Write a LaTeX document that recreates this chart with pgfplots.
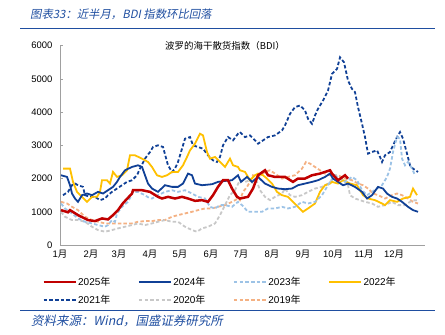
\documentclass[border=0pt]{standalone}
\usepackage{pgfplots}
\pgfplotsset{compat=1.18}
\usepackage{fontspec}
\setmainfont{Liberation Sans}
\newfontfamily\cjk{Noto Sans CJK SC}
\newfontfamily\cjkit{Noto Sans CJK SC}[FakeSlant=0.2]
\definecolor{hdr}{RGB}{31,78,160}
\definecolor{axgray}{RGB}{160,160,160}
\definecolor{c25}{RGB}{192,0,0}
\definecolor{c24}{RGB}{16,64,150}
\definecolor{c23}{RGB}{157,195,230}
\definecolor{c22}{RGB}{255,192,0}
\definecolor{c21}{RGB}{16,64,150}
\definecolor{c20}{RGB}{200,200,200}
\definecolor{c19}{RGB}{244,177,131}
\begin{document}
\begin{tikzpicture}[x=1bp,y=1bp]
\useasboundingbox (0,0) rectangle (445,334);
\node[anchor=west, text=hdr, font=\cjkit\fontsize{11.4}{14}\selectfont, inner sep=0] at (30,320) {图表33：近半月，BDI 指数环比回落};
\draw[hdr, line width=1.2bp] (20,305.7) -- (435,305.7);
\draw[hdr, line width=1.2bp] (20,23.3) -- (435,23.3);
\node[anchor=west, text=hdr, font=\cjkit\fontsize{12.5}{14}\selectfont, inner sep=0] at (31,13.3) {资料来源：Wind，国盛证券研究所};
\begin{axis}[
  at={(60bp,89bp)}, anchor=south west,
  scale only axis, width=365bp, height=199.3bp,
  xmin=0, xmax=365, ymin=0, ymax=6000,
  clip=false,
  axis lines*=left,
  axis line style={draw=axgray, line width=0.8bp},
  xtick={0,31,59,90,120,151,181,212,243,273,304,334},
  xticklabels={1{\cjk 月},2{\cjk 月},3{\cjk 月},4{\cjk 月},5{\cjk 月},6{\cjk 月},7{\cjk 月},8{\cjk 月},9{\cjk 月},10{\cjk 月},11{\cjk 月},12{\cjk 月}},
  x tick style={draw=none},
  ytick={0,1000,2000,3000,4000,5000,6000},
  y tick style={draw=axgray, line width=0.8bp},
  tick align=inside, major tick length=3bp,
  tick label style={font=\fontsize{9.5}{11}\selectfont},
  /pgf/number format/assume math mode=true,
  /pgf/number format/1000 sep={},
  scaled y ticks=false,
  yticklabel style={xshift=-4bp},
  xticklabel style={yshift=-2bp},
  legend columns=4,
  legend style={draw=none, fill=none, inner sep=0pt,
    at={(axis description cs:-0.048,-0.15)}, anchor=north west,
    font=\fontsize{10}{12}\selectfont,
    nodes={inner sep=1.5bp},
    /tikz/every even column/.append style={column sep=26bp},
    /tikz/row sep=5.5bp},
  legend image code/.code={\draw[line width=2bp,#1] (0bp,0bp) -- (32bp,0bp);},
]
\addlegendimage{c25, line width=2.8bp}
\addlegendentry{2025{\cjk 年}}
\addlegendimage{c24}
\addlegendentry{2024{\cjk 年}}
\addlegendimage{c23, dash pattern=on 3.5bp off 2.2bp}
\addlegendentry{2023{\cjk 年}}
\addlegendimage{c22}
\addlegendentry{2022{\cjk 年}}
\addlegendimage{c21, dash pattern=on 3.5bp off 2.2bp}
\addlegendentry{2021{\cjk 年}}
\addlegendimage{c20, dash pattern=on 3.5bp off 2.2bp}
\addlegendentry{2020{\cjk 年}}
\addlegendimage{c19, dash pattern=on 3.5bp off 2.2bp}
\addlegendentry{2019{\cjk 年}}
% 2019
\addplot[forget plot, c19, line width=1.8bp, dash pattern=on 3.5bp off 2.2bp] coordinates {
(1,1300)(7,1250)(12,1150)(18,1050)(25,850)(32,750)(38,700)(45,650)(58,650)(72,650)(78,700)(85,720)(92,720)(98,750)(105,750)(112,850)(118,900)(125,950)(132,1000)(138,1050)(145,1100)(152,1100)(158,1150)(165,1200)(172,1300)(178,1400)(180,1350)(183,1600)(187,1750)(190,1900)(193,2100)(198,2050)(205,2200)(210,2250)(215,2150)(222,2000)(228,2050)(235,2100)(242,2300)(246,2500)(250,2450)(255,2350)(260,2250)(265,2150)(270,2100)(278,2100)(285,2000)(292,1950)(298,1850)(303,1800)(308,1700)(313,1550)(318,1500)(325,1400)(332,1500)(337,1550)(342,1500)(348,1400)(353,1300)(358,1250)};
% 2020
\addplot[forget plot, c20, line width=1.8bp, dash pattern=on 3.5bp off 2.2bp] coordinates {
(1,1000)(5,850)(12,750)(18,750)(25,700)(32,550)(38,450)(45,400)(52,450)(58,500)(65,550)(72,600)(78,650)(85,600)(92,650)(98,700)(105,750)(112,700)(118,700)(125,550)(132,450)(137,400)(142,500)(148,550)(155,650)(160,900)(165,1200)(170,1500)(175,1650)(180,1950)(185,1900)(190,1950)(193,1850)(197,1900)(200,1650)(205,1450)(210,1350)(215,1450)(222,1550)(225,1700)(230,1500)(235,1450)(242,1500)(248,1600)(255,1700)(262,1750)(268,1850)(272,1950)(278,2050)(283,2000)(288,1800)(290,1500)(295,1400)(300,1350)(305,1300)(312,1250)(318,1150)(325,1200)(332,1300)(338,1200)(345,1200)(350,1300)(355,1350)(358,1350)};
% 2021
\addplot[forget plot, c21, line width=1.8bp, dash pattern=on 3.5bp off 2.2bp] coordinates {
(3,1500)(8,1600)(12,1800)(15,1850)(18,1800)(23,1750)(25,1500)(30,1450)(35,1450)(40,1350)(45,1400)(48,1500)(52,1600)(57,1700)(62,1800)(67,1900)(72,1950)(77,2100)(80,2300)(85,2600)(90,2800)(93,2950)(98,3000)(103,2950)(108,2400)(112,2200)(115,2300)(118,2500)(122,2900)(125,3200)(130,3250)(133,3000)(138,2950)(143,2900)(148,2700)(153,2550)(157,2500)(160,2650)(163,3000)(168,3250)(173,3150)(178,3350)(180,3400)(185,3250)(190,3300)(195,3150)(198,3050)(203,3150)(208,3250)(215,3300)(222,3450)(225,3600)(230,3950)(235,4150)(240,4200)(245,4050)(248,3800)(252,3650)(255,3900)(258,4100)(263,4350)(268,4650)(272,5150)(277,5300)(280,5650)(284,5500)(288,4950)(292,4700)(295,4600)(298,4150)(302,3650)(305,3250)(308,2750)(312,2800)(317,2850)(320,2650)(322,2500)(325,2700)(330,2800)(333,3000)(337,3250)(340,3400)(343,3200)(347,2750)(350,2400)(353,2300)(358,2200)};
% 2022
\addplot[forget plot, c22, line width=1.8bp] coordinates {
(3,2300)(10,2300)(13,1900)(17,1600)(22,1450)(27,1300)(32,1450)(37,1450)(40,1600)(42,1950)(47,1950)(50,1850)(53,2200)(57,2050)(62,2100)(67,2250)(70,2700)(75,2700)(82,2600)(88,2500)(92,2350)(97,2100)(102,2050)(107,2100)(112,2200)(118,2200)(123,2400)(127,2650)(130,2850)(135,3050)(140,3350)(143,3300)(147,2800)(150,2600)(155,2650)(160,2500)(165,2350)(170,2600)(173,2400)(178,2350)(180,2250)(185,2200)(190,1950)(195,2100)(198,2150)(203,2100)(207,2000)(212,1850)(217,1600)(222,1500)(228,1450)(233,1300)(238,1150)(243,1000)(248,1100)(255,1250)(260,1600)(265,1800)(270,1850)(272,1900)(278,1850)(283,1950)(290,1850)(297,1800)(303,1500)(308,1400)(315,1350)(322,1250)(325,1200)(330,1350)(337,1300)(343,1400)(350,1450)(353,1700)(357,1500)};
% 2023
\addplot[forget plot, c23, line width=1.8bp, dash pattern=on 3.5bp off 2.2bp] coordinates {
(1,1250)(5,1100)(12,950)(18,800)(25,700)(32,650)(38,600)(45,550)(48,600)(52,750)(55,700)(57,950)(62,1150)(68,1300)(73,1600)(78,1600)(85,1500)(90,1400)(92,1400)(98,1500)(105,1600)(112,1650)(118,1600)(125,1650)(132,1550)(138,1450)(145,1400)(150,1150)(155,1100)(160,1200)(165,1200)(172,1150)(178,1300)(182,1200)(188,1000)(195,1000)(202,1000)(208,1100)(215,1100)(222,1150)(228,1100)(235,1150)(242,1300)(248,1250)(255,1300)(262,1500)(267,1750)(270,1900)(275,2100)(280,2000)(285,1900)(292,2050)(297,1950)(302,1650)(307,1500)(312,1600)(317,1700)(322,1800)(327,2050)(330,2300)(333,2800)(337,3250)(340,3200)(342,2600)(345,2400)(348,2500)(352,2300)(355,2100)};
% 2024
\addplot[forget plot, c24, line width=1.8bp] coordinates {
(1,2100)(7,2050)(10,1800)(12,1550)(15,1400)(18,1300)(22,1500)(27,1550)(32,1500)(38,1600)(43,1550)(48,1650)(53,1750)(57,1900)(60,2050)(65,2250)(72,2350)(78,2400)(82,2350)(85,2100)(88,1850)(92,1700)(98,1600)(105,1800)(112,1750)(118,1750)(123,1850)(128,2150)(132,2100)(135,1850)(142,1800)(152,1830)(158,1900)(165,1930)(172,1950)(178,2100)(181,1900)(187,2050)(192,1900)(198,2050)(205,1850)(212,1750)(218,1700)(225,1680)(232,1700)(238,1800)(245,1850)(252,1900)(258,1950)(265,2050)(270,2150)(273,2000)(278,1900)(283,1800)(288,1850)(295,1750)(302,1600)(307,1400)(312,1500)(318,1750)(323,1700)(327,1550)(332,1450)(337,1400)(342,1300)(348,1150)(353,1050)(358,1000)};
% 2025
\addplot[forget plot, c25, line width=2.5bp] coordinates {
(1,1050)(8,985)(10,1050)(18,900)(28,750)(35,720)(42,800)(48,770)(53,900)(58,1050)(63,1260)(72,1550)(73,1650)(82,1650)(90,1600)(98,1450)(102,1400)(108,1450)(115,1400)(122,1450)(128,1400)(135,1330)(142,1350)(148,1300)(153,1500)(158,1750)(163,1950)(168,1950)(172,1700)(177,1450)(180,1400)(188,1450)(193,1700)(198,2100)(205,2250)(208,2100)(215,2050)(225,2050)(233,1900)(238,2000)(245,2000)(252,2100)(260,2150)(265,2200)(270,2250)(272,2150)(278,1950)(285,2100)(288,2000)};
\node[font=\cjk\fontsize{9.5}{11}\selectfont, fill=white, inner sep=1bp] at (rel axis cs:0.452,1) {波罗的海干散货指数（BDI）};
\end{axis}
\end{tikzpicture}
\end{document}
